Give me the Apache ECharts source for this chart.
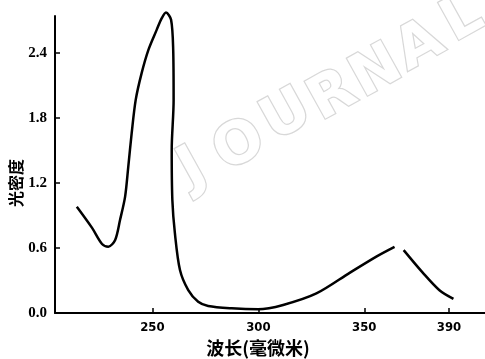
<!DOCTYPE html>
<html>
<head>
<meta charset="utf-8">
<script src="https://cdn.jsdelivr.net/npm/echarts@6/dist/echarts.min.js"></script>
<style>
  html, body { margin: 0; padding: 0; background: #fff; }
  #chart { width: 485px; height: 359px; }
</style>
</head>
<body>
<div id="chart"></div>
<script>
// 波长 (毫微米) 与 光密度
var wavelength = [214.3, 221.5, 226.2, 229.2, 232.4, 234.7, 237.1, 238.6, 240.2, 242.1, 244.9, 248.1, 252.0, 254.4, 256.4, 258.8, 259.8, 260.0, 259.1, 259.4, 260.6, 263.0, 266.9, 271.6, 276.3, 287.4, 299.9, 311.7, 327.4, 343.1, 355.7, 364.3, 366.5, 368.6, 377.7, 385.5, 392.1];
var density = [0.98, 0.785, 0.637, 0.612, 0.674, 0.858, 1.074, 1.351, 1.659, 1.966, 2.213, 2.428, 2.612, 2.72, 2.772, 2.705, 2.428, 1.966, 1.505, 1.043, 0.736, 0.397, 0.212, 0.104, 0.065, 0.043, 0.034, 0.074, 0.18, 0.37, 0.52, 0.61, null, 0.58, 0.37, 0.21, 0.13];
var xTicks = [250, 300, 350, 390];
var yTicks = [0, 0.6, 1.2, 1.8, 2.4];

var points = [];
for (var i = 0; i < wavelength.length; i++) {
    points.push([wavelength[i], density[i]]);
}

// 水印字母及其位置
var markLetters = ['J', 'O', 'U', 'R', 'N', 'A', 'L'];
var markX = [193, 240, 287, 333, 377, 420, 463];
var markY = [170, 147, 117, 97, 73, 47, 20];

var graphics = [];
markLetters.forEach(function (ch, idx) {
    graphics.push({
        type: 'text',
        x: markX[idx],
        y: markY[idx],
        rotation: 0.506,
        z: 0,
        style: {
            text: ch,
            textAlign: 'center',
            textVerticalAlign: 'middle',
            fontFamily: 'DejaVu Sans',
            fontWeight: 'bold',
            fontSize: 58,
            fill: '#fff',
            stroke: '#d8d8d8',
            lineWidth: 2.5,
            shadowBlur: 5,
            shadowColor: 'rgba(0,0,0,0.10)'
        }
    });
});

graphics.push({
    type: 'text',
    x: 16,
    y: 183,
    rotation: Math.PI / 2,
    style: {
        text: '光密度',
        textAlign: 'center',
        textVerticalAlign: 'middle',
        fontFamily: 'Noto Sans CJK SC',
        fontWeight: 'bold',
        fontSize: 16,
        fill: '#000'
    }
});
graphics.push({
    type: 'text',
    x: 258,
    y: 348,
    style: {
        text: '波长(毫微米)',
        textAlign: 'center',
        textVerticalAlign: 'middle',
        fontFamily: 'Noto Sans CJK SC',
        fontWeight: 'bold',
        fontSize: 18,
        fill: '#000'
    }
});

var myChart = echarts.init(document.getElementById('chart'));

var option = {
    animation: false,
    backgroundColor: '#fff',
    grid: { left: 55, right: 0, top: 16, bottom: 46 },
    xAxis: {
        type: 'value',
        min: 204,
        max: 407,
        axisLine: { lineStyle: { color: '#000', width: 2 } },
        axisTick: { inside: true, length: 5, lineStyle: { color: '#000', width: 1.5 }, customValues: xTicks },
        axisLabel: {
            customValues: xTicks,
            color: '#000',
            fontFamily: 'DejaVu Sans Condensed',
            fontWeight: 'bold',
            fontSize: 13,
            margin: 8
        },
        splitLine: { show: false }
    },
    yAxis: {
        type: 'value',
        min: 0,
        max: 2.74,
        axisLine: { show: true, lineStyle: { color: '#000', width: 2 } },
        axisTick: { show: true, inside: true, length: 5, lineStyle: { color: '#000', width: 1.5 }, customValues: yTicks },
        axisLabel: {
            customValues: yTicks,
            color: '#000',
            fontFamily: 'Liberation Serif',
            fontWeight: 'bold',
            fontSize: 15,
            margin: 8,
            formatter: function (v) { return v.toFixed(1); }
        },
        splitLine: { show: false }
    },
    graphic: graphics,
    series: [
        {
            type: 'line',
            data: points,
            smooth: 0.3,
            connectNulls: false,
            clip: false,
            symbol: 'none',
            z: 5,
            lineStyle: { color: '#000', width: 2.5 }
        }
    ]
};

myChart.setOption(option);
</script>
</body>
</html>
